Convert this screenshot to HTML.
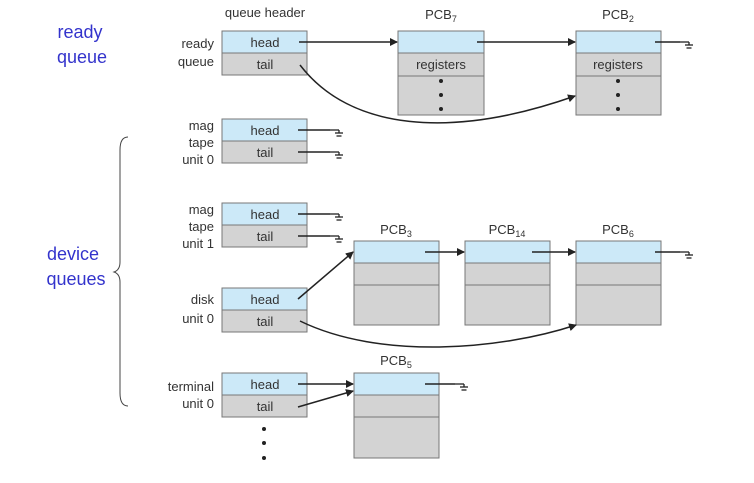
<!DOCTYPE html>
<html><head><style>body{margin:0;background:#fff}svg{display:block}</style></head><body>
<svg width="754" height="483" xmlns="http://www.w3.org/2000/svg" font-family="Liberation Sans, sans-serif">
<defs><marker id="a" markerWidth="8" markerHeight="8" refX="7" refY="4" orient="auto" markerUnits="userSpaceOnUse"><path d="M0,0L8,4L0,8z" fill="#222"/></marker>
<g id="gnd" stroke="#222" stroke-width="1.3"><line x1="0" y1="0" x2="9" y2="0"/><line x1="9" y1="0" x2="9" y2="3"/><line x1="5" y1="3" x2="13" y2="3"/><line x1="6.5" y1="6" x2="11.5" y2="6"/></g></defs>
<g fill="#3333cc" font-size="18" text-anchor="middle"><text x="80" y="38">ready</text><text x="82" y="63">queue</text><text x="73" y="260">device</text><text x="76" y="285">queues</text></g>
<path d="M128,137 Q120,137 120,150 L120,262 Q120,270 114,272 Q120,274 120,282 L120,393 Q120,406 128,406" fill="none" stroke="#444" stroke-width="1"/>
<g font-size="13" fill="#333" text-anchor="end"><text x="214" y="48">ready</text><text x="214" y="66">queue</text>
<text x="214" y="130">mag</text><text x="214" y="147">tape</text><text x="214" y="164">unit 0</text>
<text x="214" y="214">mag</text><text x="214" y="231">tape</text><text x="214" y="248">unit 1</text>
<text x="214" y="304">disk</text><text x="214" y="323">unit 0</text>
<text x="214" y="391">terminal</text><text x="214" y="408">unit 0</text></g>
<text x="265" y="17" font-size="13" fill="#333" text-anchor="middle">queue header</text>
<g font-size="13" fill="#333" text-anchor="middle"><text x="441" y="19">PCB<tspan font-size="9" dy="3">7</tspan></text><text x="618" y="19">PCB<tspan font-size="9" dy="3">2</tspan></text>
<text x="396" y="234">PCB<tspan font-size="9" dy="3">3</tspan></text><text x="507" y="234">PCB<tspan font-size="9" dy="3">14</tspan></text><text x="618" y="234">PCB<tspan font-size="9" dy="3">6</tspan></text><text x="396" y="365">PCB<tspan font-size="9" dy="3">5</tspan></text></g>
<g stroke="#777" stroke-width="1">
<g fill="#cce9f8"><rect x="222" y="31" width="85" height="22"/><rect x="222" y="119" width="85" height="22"/><rect x="222" y="203" width="85" height="22"/><rect x="222" y="288" width="85" height="22"/><rect x="222" y="373" width="85" height="22"/>
<rect x="398" y="31" width="86" height="22"/><rect x="576" y="31" width="85" height="22"/><rect x="354" y="241" width="85" height="22"/><rect x="465" y="241" width="85" height="22"/><rect x="576" y="241" width="85" height="22"/><rect x="354" y="373" width="85" height="22"/></g>
<g fill="#d3d3d3"><rect x="222" y="53" width="85" height="22"/><rect x="222" y="141" width="85" height="22"/><rect x="222" y="225" width="85" height="22"/><rect x="222" y="310" width="85" height="22"/><rect x="222" y="395" width="85" height="22"/>
<rect x="398" y="53" width="86" height="23"/><rect x="398" y="76" width="86" height="39"/><rect x="576" y="53" width="85" height="23"/><rect x="576" y="76" width="85" height="39"/>
<rect x="354" y="263" width="85" height="22"/><rect x="354" y="285" width="85" height="40"/><rect x="465" y="263" width="85" height="22"/><rect x="465" y="285" width="85" height="40"/><rect x="576" y="263" width="85" height="22"/><rect x="576" y="285" width="85" height="40"/>
<rect x="354" y="395" width="85" height="22"/><rect x="354" y="417" width="85" height="41"/></g></g>
<g font-size="13" fill="#333" text-anchor="middle"><text x="265" y="47">head</text><text x="265" y="69">tail</text><text x="265" y="135">head</text><text x="265" y="157">tail</text><text x="265" y="219">head</text><text x="265" y="241">tail</text><text x="265" y="304">head</text><text x="265" y="326">tail</text><text x="265" y="389">head</text><text x="265" y="411">tail</text>
<text x="441" y="69">registers</text><text x="618" y="69">registers</text></g>
<g fill="#222"><circle cx="441" cy="81" r="2"/><circle cx="441" cy="95" r="2"/><circle cx="441" cy="109" r="2"/><circle cx="618" cy="81" r="2"/><circle cx="618" cy="95" r="2"/><circle cx="618" cy="109" r="2"/><circle cx="264" cy="429" r="2"/><circle cx="264" cy="443" r="2"/><circle cx="264" cy="458" r="2"/></g>
<g stroke="#222" stroke-width="1.5" fill="none">
<line x1="299" y1="42" x2="397" y2="42" marker-end="url(#a)"/><line x1="477" y1="42" x2="575" y2="42" marker-end="url(#a)"/>
<path d="M300,65 C350,130 450,140 575,96" marker-end="url(#a)"/>
<line x1="298" y1="299" x2="353" y2="252" marker-end="url(#a)"/>
<line x1="425" y1="252" x2="464" y2="252" marker-end="url(#a)"/><line x1="532" y1="252" x2="575" y2="252" marker-end="url(#a)"/>
<path d="M300,321 C380,360 500,350 576,325" marker-end="url(#a)"/>
<line x1="298" y1="384" x2="353" y2="384" marker-end="url(#a)"/><line x1="298" y1="407" x2="353" y2="391" marker-end="url(#a)"/>
<line x1="298" y1="130" x2="330" y2="130"/><line x1="298" y1="152" x2="330" y2="152"/><line x1="298" y1="214" x2="330" y2="214"/><line x1="298" y1="236" x2="330" y2="236"/>
<line x1="655" y1="42" x2="680" y2="42"/><line x1="655" y1="252" x2="680" y2="252"/><line x1="425" y1="384" x2="455" y2="384"/></g>
<use href="#gnd" x="330" y="130"/><use href="#gnd" x="330" y="152"/><use href="#gnd" x="330" y="214"/><use href="#gnd" x="330" y="236"/>
<use href="#gnd" x="680" y="42"/><use href="#gnd" x="680" y="252"/><use href="#gnd" x="455" y="384"/>
</svg></body></html>
